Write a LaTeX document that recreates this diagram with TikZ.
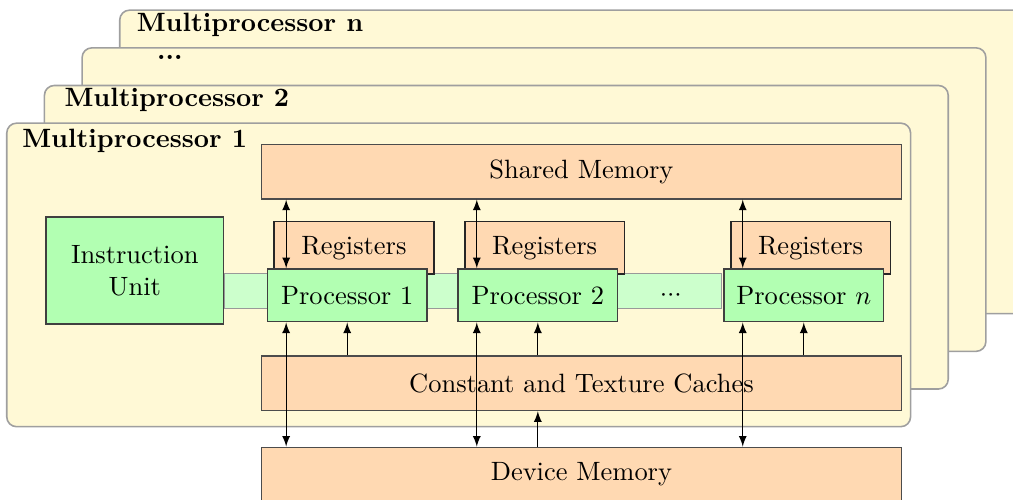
\documentclass[tikz,border=0pt]{standalone}
\usepackage{amsmath}
\usepackage{tikz}
\usetikzlibrary{arrows, positioning, calc}

\definecolor{mpyellow}{RGB}{255,249,214}
\tikzstyle{mpframe} = [rectangle, rounded corners=1.3mm, minimum width=12cm, minimum height=4.03cm, draw=gray!75, line width=0.6pt, fill=mpyellow]
\tikzstyle{mplabel} = [inner sep=0pt, anchor=base west, font=\bfseries]
\tikzstyle{memory} = [rectangle, minimum width=8.5cm, minimum height=0.72cm, text centered, draw=black!70, line width=0.6pt, fill=orange!30]
\tikzstyle{regs} = [rectangle, minimum width=2.12cm, minimum height=0.7cm, text centered, draw=black!85, line width=0.6pt, fill=orange!30]
\tikzstyle{proc} = [rectangle, minimum width=2.12cm, minimum height=0.7cm, text centered, draw=black!75, line width=0.6pt, fill=green!30]
\tikzstyle{bus} = [rectangle, minimum width=6.6cm, minimum height=0.47cm, draw=gray!80, fill=green!20]
\tikzstyle{link} = [<->, >=latex]
\tikzstyle{uplink} = [->, >=latex]

\begin{document}
\begin{tikzpicture}[node distance=0.39cm]
\useasboundingbox (0,0) rectangle (13.45,-6.63);

% Multiprocessor frames, back to front
\node (mpn) [mpframe] at (7.59,-2.15) {};
\node [mplabel] at ([xshift=0.23cm,yshift=-0.30cm]mpn.north west) {Multiprocessor n};
\node (mpd) [mpframe] at (7.09,-2.65) {};
\node [mplabel] at ([xshift=1cm,yshift=-0.17cm]mpd.north west) {...};
\node (mp2) [mpframe] at (6.59,-3.15) {};
\node [mplabel] at ([xshift=0.27cm,yshift=-0.29cm]mp2.north west) {Multiprocessor 2};
\node (mp1) [mpframe] at (6.09,-3.65) {};
\node [mplabel] at ([xshift=0.21cm,yshift=-0.33cm]mp1.north west) {Multiprocessor 1};

% Memories
\node (shared) [memory] at (7.72,-2.28) {Shared Memory};
\node (caches) [memory] at (7.72,-5.09) {Constant and Texture Caches};
\node (device) [memory] at (7.72,-6.30) {Device Memory};

% Instruction unit and the bus to the processors
\node (instr) [proc, minimum width=2.36cm, minimum height=1.42cm, align=center] at (1.79,-3.59) {Instruction\\Unit};
\node (bus) [bus] at (6.275,-3.865) {};

% Registers, then the processors on top of them
\node (reg1) [regs] at (4.70,-3.29) {Registers};
\node (reg2) [regs, right=of reg1] {Registers};
\node (regn) [regs, right=1.39cm of reg2] {Registers};
\node (proc1) [proc, below=-0.09cm of reg1, xshift=-0.09cm] {Processor 1};
\node (proc2) [proc, below=-0.09cm of reg2, xshift=-0.09cm] {Processor 2};
\node (procn) [proc, below=-0.09cm of regn, xshift=-0.09cm] {Processor $n$};
\node (gap) at ($(proc2.east)!0.5!(procn.west)$) {{$\cdot$}{$\cdot$}{$\cdot$}};

% Connecting processors and memories
\foreach \p in {proc1,proc2,procn}{
  \draw [link] ([xshift=0.26cm]\p.north west |- shared.south) -- ([xshift=0.26cm]\p.north west);
  \draw [link] ([xshift=0.26cm]\p.south west) -- ([xshift=0.26cm]\p.south west |- device.north);
  \draw [uplink] (\p.south |- caches.north) -- (\p.south);
}
\draw [uplink] (proc2.south |- device.north) -- (proc2.south |- caches.south);

\end{tikzpicture}
\end{document}
